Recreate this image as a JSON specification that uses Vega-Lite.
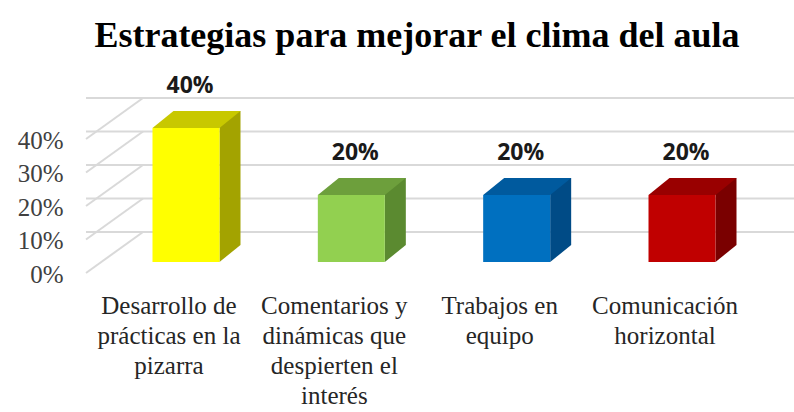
{
  "$schema": "https://vega.github.io/schema/vega-lite/v6.json",
  "width": 696,
  "height": 134,
  "autosize": {"type": "none"},
  "padding": {"left": 86, "right": 12, "top": 128, "bottom": 150},
  "background": "white",
  "title": {
    "text": "Estrategias para mejorar el clima del aula",
    "font": "Liberation Serif",
    "fontSize": 36,
    "fontWeight": "bold",
    "color": "#000000",
    "anchor": "middle",
    "dx": -17,
    "offset": 20
  },
  "datasets": {
    "estrategias": [
      {"estrategia": "Desarrollo de\nprácticas en la\npizarra", "porcentaje": 0.4},
      {"estrategia": "Comentarios y\ndinámicas que\ndespierten el\ninterés", "porcentaje": 0.2},
      {"estrategia": "Trabajos en\nequipo", "porcentaje": 0.2},
      {"estrategia": "Comunicación\nhorizontal", "porcentaje": 0.2}
    ],
    "marcas": [{"v": 0}, {"v": 0.1}, {"v": 0.2}, {"v": 0.3}, {"v": 0.4}]
  },
  "resolve": {"scale": {"color": "independent"}},
  "layer": [
    {
      "data": {"name": "marcas"},
      "mark": {"type": "rule", "color": "#D9D9D9", "strokeWidth": 2, "xOffset": 57, "x2Offset": 12, "yOffset": -30},
      "encoding": {
        "y": {"field": "v", "type": "quantitative", "scale": {"domain": [0, 0.4], "nice": false},
          "axis": {"orient": "left", "values": [0, 0.1, 0.2, 0.3, 0.4], "format": ".0%", "title": null, "domain": false, "ticks": false, "grid": false, "labelFont": "Liberation Serif", "labelFontSize": 25, "labelColor": "#404040", "labelPadding": 23, "labelOffset": 12, "labelFlush": false, "labelOverlap": false}}
      }
    },
    {
      "data": {"name": "marcas"},
      "mark": {"type": "rule", "color": "#D9D9D9", "strokeWidth": 2, "xOffset": -100, "x2Offset": -43, "yOffset": 11, "y2Offset": -30},
      "encoding": {
        "x": {"datum": "Desarrollo de\nprácticas en la\npizarra", "type": "nominal", "scale": {"type": "band", "paddingInner": 0, "paddingOuter": 0.1048},
          "axis": {"title": null, "domain": false, "ticks": false, "grid": false, "labelAngle": 0, "labelAlign": "center", "labelBaseline": "top", "labelExpr": "split(datum.label, '\\n')", "labelFont": "Liberation Serif", "labelFontSize": 25, "labelLineHeight": 30, "labelColor": "#262626", "labelPadding": 31, "labelOffset": -17, "labelLimit": 0, "labelOverlap": false}},
        "x2": {"datum": "Desarrollo de\nprácticas en la\npizarra"},
        "y": {"field": "v", "type": "quantitative", "scale": {"domain": [0, 0.4], "nice": false},
          "axis": {"orient": "left", "values": [0, 0.1, 0.2, 0.3, 0.4], "format": ".0%", "title": null, "domain": false, "ticks": false, "grid": false, "labelFont": "Liberation Serif", "labelFontSize": 25, "labelColor": "#404040", "labelPadding": 23, "labelOffset": 12, "labelFlush": false, "labelOverlap": false}},
        "y2": {"field": "v"}
      }
    },
    {
      "data": {"name": "estrategias"},
      "mark": {"type": "bar", "width": 21, "xOffset": 44, "yOffset": -17, "y2Offset": -17},
      "encoding": {
        "x": {"field": "estrategia", "type": "nominal", "sort": null, "scale": {"type": "band", "paddingInner": 0, "paddingOuter": 0.1048},
          "axis": {"title": null, "domain": false, "ticks": false, "grid": false, "labelAngle": 0, "labelAlign": "center", "labelBaseline": "top", "labelExpr": "split(datum.label, '\\n')", "labelFont": "Liberation Serif", "labelFontSize": 25, "labelLineHeight": 30, "labelColor": "#262626", "labelPadding": 31, "labelOffset": -17, "labelLimit": 0, "labelOverlap": false}},
        "y": {"field": "porcentaje", "type": "quantitative", "scale": {"domain": [0, 0.4], "nice": false},
          "axis": {"orient": "left", "values": [0, 0.1, 0.2, 0.3, 0.4], "format": ".0%", "title": null, "domain": false, "ticks": false, "grid": false, "labelFont": "Liberation Serif", "labelFontSize": 25, "labelColor": "#404040", "labelPadding": 23, "labelOffset": 12, "labelFlush": false, "labelOverlap": false}},
        "color": {"field": "estrategia", "type": "nominal", "sort": null, "scale": {"range": ["#A3A300", "#5B8A30", "#004B86", "#7A0000"]}, "legend": null}
      }
    },
    {
      "data": {"name": "estrategias"},
      "mark": {"type": "point", "filled": true, "opacity": 1, "size": 4, "strokeWidth": 0, "shape": "M33.5,-17L54.5,-17L33.5,0Z"},
      "encoding": {
        "x": {"field": "estrategia", "type": "nominal", "sort": null, "scale": {"type": "band", "paddingInner": 0, "paddingOuter": 0.1048},
          "axis": {"title": null, "domain": false, "ticks": false, "grid": false, "labelAngle": 0, "labelAlign": "center", "labelBaseline": "top", "labelExpr": "split(datum.label, '\\n')", "labelFont": "Liberation Serif", "labelFontSize": 25, "labelLineHeight": 30, "labelColor": "#262626", "labelPadding": 31, "labelOffset": -17, "labelLimit": 0, "labelOverlap": false}},
        "y": {"datum": 0, "type": "quantitative", "scale": {"domain": [0, 0.4], "nice": false},
          "axis": {"orient": "left", "values": [0, 0.1, 0.2, 0.3, 0.4], "format": ".0%", "title": null, "domain": false, "ticks": false, "grid": false, "labelFont": "Liberation Serif", "labelFontSize": 25, "labelColor": "#404040", "labelPadding": 23, "labelOffset": 12, "labelFlush": false, "labelOverlap": false}},
        "color": {"field": "estrategia", "type": "nominal", "sort": null, "scale": {"range": ["#A3A300", "#5B8A30", "#004B86", "#7A0000"]}, "legend": null}
      }
    },
    {
      "data": {"name": "estrategias"},
      "mark": {"type": "point", "filled": true, "opacity": 1, "size": 4, "strokeWidth": 0, "shape": "M-33.5,0L-12.5,-17L54.5,-17L33.5,0Z"},
      "encoding": {
        "x": {"field": "estrategia", "type": "nominal", "sort": null, "scale": {"type": "band", "paddingInner": 0, "paddingOuter": 0.1048},
          "axis": {"title": null, "domain": false, "ticks": false, "grid": false, "labelAngle": 0, "labelAlign": "center", "labelBaseline": "top", "labelExpr": "split(datum.label, '\\n')", "labelFont": "Liberation Serif", "labelFontSize": 25, "labelLineHeight": 30, "labelColor": "#262626", "labelPadding": 31, "labelOffset": -17, "labelLimit": 0, "labelOverlap": false}},
        "y": {"field": "porcentaje", "type": "quantitative", "scale": {"domain": [0, 0.4], "nice": false},
          "axis": {"orient": "left", "values": [0, 0.1, 0.2, 0.3, 0.4], "format": ".0%", "title": null, "domain": false, "ticks": false, "grid": false, "labelFont": "Liberation Serif", "labelFontSize": 25, "labelColor": "#404040", "labelPadding": 23, "labelOffset": 12, "labelFlush": false, "labelOverlap": false}},
        "color": {"field": "estrategia", "type": "nominal", "sort": null, "scale": {"range": ["#C8C800", "#6D9F3C", "#005A9E", "#990000"]}, "legend": null}
      }
    },
    {
      "data": {"name": "estrategias"},
      "mark": {"type": "bar", "width": 67},
      "encoding": {
        "x": {"field": "estrategia", "type": "nominal", "sort": null, "scale": {"type": "band", "paddingInner": 0, "paddingOuter": 0.1048},
          "axis": {"title": null, "domain": false, "ticks": false, "grid": false, "labelAngle": 0, "labelAlign": "center", "labelBaseline": "top", "labelExpr": "split(datum.label, '\\n')", "labelFont": "Liberation Serif", "labelFontSize": 25, "labelLineHeight": 30, "labelColor": "#262626", "labelPadding": 31, "labelOffset": -17, "labelLimit": 0, "labelOverlap": false}},
        "y": {"field": "porcentaje", "type": "quantitative", "scale": {"domain": [0, 0.4], "nice": false},
          "axis": {"orient": "left", "values": [0, 0.1, 0.2, 0.3, 0.4], "format": ".0%", "title": null, "domain": false, "ticks": false, "grid": false, "labelFont": "Liberation Serif", "labelFontSize": 25, "labelColor": "#404040", "labelPadding": 23, "labelOffset": 12, "labelFlush": false, "labelOverlap": false}},
        "color": {"field": "estrategia", "type": "nominal", "sort": null, "scale": {"range": ["#FFFF00", "#92D050", "#0070C0", "#C00000"]}, "legend": null}
      }
    },
    {
      "data": {"name": "estrategias"},
      "mark": {"type": "text", "font": "Open Sans", "fontSize": 23, "fontWeight": "bold", "color": "#1A1A1A", "baseline": "middle", "dy": -42, "dx": 4},
      "encoding": {
        "x": {"field": "estrategia", "type": "nominal", "sort": null, "scale": {"type": "band", "paddingInner": 0, "paddingOuter": 0.1048},
          "axis": {"title": null, "domain": false, "ticks": false, "grid": false, "labelAngle": 0, "labelAlign": "center", "labelBaseline": "top", "labelExpr": "split(datum.label, '\\n')", "labelFont": "Liberation Serif", "labelFontSize": 25, "labelLineHeight": 30, "labelColor": "#262626", "labelPadding": 31, "labelOffset": -17, "labelLimit": 0, "labelOverlap": false}},
        "y": {"field": "porcentaje", "type": "quantitative", "scale": {"domain": [0, 0.4], "nice": false},
          "axis": {"orient": "left", "values": [0, 0.1, 0.2, 0.3, 0.4], "format": ".0%", "title": null, "domain": false, "ticks": false, "grid": false, "labelFont": "Liberation Serif", "labelFontSize": 25, "labelColor": "#404040", "labelPadding": 23, "labelOffset": 12, "labelFlush": false, "labelOverlap": false}},
        "text": {"field": "porcentaje", "type": "quantitative", "format": ".0%"}
      }
    }
  ],
  "config": {"view": {"stroke": null}}
}
